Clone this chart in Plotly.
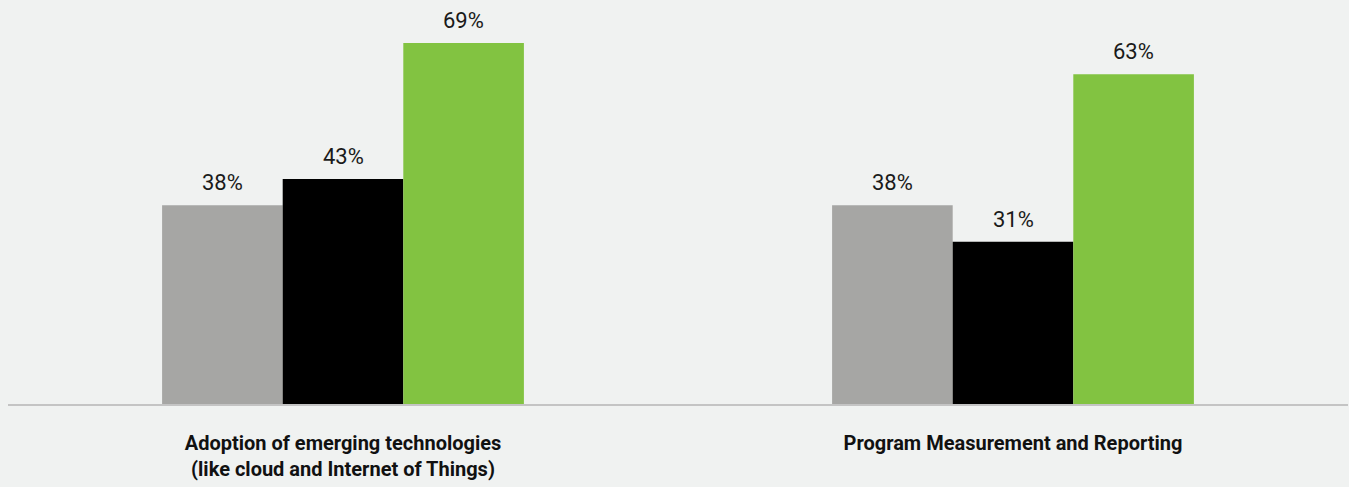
import plotly.graph_objects as go

categories = [
    "Adoption of emerging technologies<br>(like cloud and Internet of Things)",
    "Program Measurement and Reporting",
]
series_names = ["Group 1", "Group 2", "Group 3"]
series_values = [
    [38, 38],
    [43, 31],
    [69, 63],
]
series_colors = ["#a6a6a4", "#000000", "#82c341"]

BG = "#f0f2f1"
FONT = "Roboto, Arial, sans-serif"

fig = go.Figure()
for i, (name, vals, color) in enumerate(zip(series_names, series_values, series_colors)):
    fig.add_trace(go.Bar(
        name=name,
        x=categories,
        y=vals,
        offsetgroup=str(i),
        marker=dict(color=color, line=dict(width=0)),
        hoverinfo="skip",
    ))

# value labels above each bar (bars are 1/3 of group width each)
n = len(series_names)
for i, vals in enumerate(series_values):
    for j, v in enumerate(vals):
        fig.add_annotation(
            x=j, y=v, xref="x", yref="y",
            xshift=(i - (n - 1) / 2) * 120.6,
            yshift=8,
            text=f"{v}%",
            showarrow=False,
            yanchor="bottom",
            font=dict(family=FONT, size=22, color="#1a1a1a"),
        )

fig.update_layout(
    width=1349,
    height=487,
    margin=dict(l=8, r=1, t=0, b=83),
    paper_bgcolor=BG,
    plot_bgcolor=BG,
    barmode="group",
    bargap=0.46,
    bargroupgap=0,
    showlegend=False,
)
fig.update_xaxes(
    type="category",
    tickvals=categories,
    ticktext=[f"<b>{c}</b>" for c in categories],
    tickfont=dict(family=FONT, size=20, color="#111111"),
    showline=True,
    linecolor="#c4c4c4",
    linewidth=2,
    ticks="",
    showgrid=False,
    ticklabelstandoff=20,
)
fig.update_yaxes(
    range=[0, 77.2],
    visible=False,
    showgrid=False,
    zeroline=False,
)

fig.write_html("out.html")
